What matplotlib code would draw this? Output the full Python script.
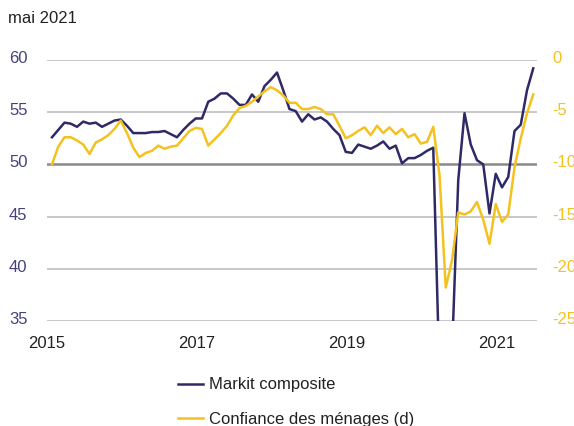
import numpy as np
import matplotlib
matplotlib.use("Agg")
import matplotlib.pyplot as plt
from matplotlib.transforms import ScaledTranslation

plt.rcParams['font.family'] = ['Liberation Sans', 'DejaVu Sans']

# mensuel, janvier 2015 -> juin 2021
pmi = [52.6, 53.3, 54.0, 53.9, 53.6, 54.1, 53.9, 54.0, 53.6, 53.9, 54.2, 54.3,
       53.7, 53.0, 53.0, 53.0, 53.1, 53.1, 53.2, 52.9, 52.6, 53.3, 53.9, 54.4,
       54.4, 56.0, 56.3, 56.8, 56.8, 56.3, 55.7, 55.7, 56.7, 56.0, 57.5, 58.1,
       58.8, 57.1, 55.3, 55.1, 54.1, 54.8, 54.3, 54.5, 54.1, 53.4, 52.8, 51.2,
       51.1, 51.9, 51.7, 51.5, 51.8, 52.2, 51.5, 51.8, 50.1, 50.6, 50.6, 50.9,
       51.3, 51.6, 29.7, 13.6, 31.9, 48.5, 54.9, 51.9, 50.4, 50.0, 45.3, 49.1,
       47.8, 48.8, 53.2, 53.8, 57.1, 59.2]

confiance = [-10.0, -8.3, -7.4, -7.4, -7.7, -8.1, -9.0, -7.9, -7.6, -7.2, -6.6, -5.8,
             -7.0, -8.4, -9.3, -8.9, -8.7, -8.2, -8.5, -8.3, -8.2, -7.5, -6.8, -6.5,
             -6.6, -8.2, -7.6, -7.0, -6.3, -5.3, -4.6, -4.4, -4.0, -3.5, -3.0, -2.6,
             -2.9, -3.4, -4.1, -4.1, -4.7, -4.7, -4.5, -4.7, -5.2, -5.2, -6.3, -7.5,
             -7.2, -6.8, -6.45, -7.2, -6.3, -7.0, -6.45, -7.1, -6.6, -7.4, -7.1, -8.0,
             -7.85, -6.4, -11.0, -21.8, -19.2, -14.6, -14.8, -14.5, -13.6, -15.3, -17.6, -13.8,
             -15.5, -14.8, -10.3, -7.5, -5.1, -3.3]

annees = ['2015', '2017', '2019', '2021']
ticks_g = [60, 55, 50, 45, 40, 35]
ticks_d = [0, -5, -10, -15, -20, -25]

violet = '#2f2a66'
jaune = '#f4c21f'

mois = np.arange(len(pmi))

fig = plt.figure(figsize=(5.74, 4.26), dpi=100)
ax = fig.add_axes([47/574, 1-321/426, 490/574, 261/426])
ax2 = ax.twinx()

for v in ticks_g:
    if v == 50:
        ax.axhline(v, color='#8a8a8a', lw=1.8, zorder=1)
    else:
        ax.axhline(v, color='#c4c4c4', lw=1.3, zorder=1)

l1, = ax.plot(mois, pmi, color=violet, lw=1.8, zorder=3)
l2, = ax2.plot(mois, confiance, color=jaune, lw=1.8, zorder=3)

ax.set_xlim(-0.16, 77.6)
ax.set_ylim(35, 60)
ax2.set_ylim(-25, 0)

ax.set_yticks(ticks_g)
ax.set_yticklabels([str(t) for t in ticks_g], color='#45437e', fontsize=12)
ax2.set_yticks(ticks_d)
ax2.set_yticklabels([str(t) for t in ticks_d], color=jaune, fontsize=12)
ax.set_xticks([i * 24 - 0.8 for i in range(len(annees))])
ax.set_xticklabels(annees, fontsize=12, color='#222222')

ax.tick_params(axis='y', length=0, pad=14)
ax2.tick_params(axis='y', length=0, pad=11)
ax.tick_params(axis='x', length=0, pad=11)

# étiquettes verticales un peu au-dessus des lignes
decal = ScaledTranslation(0, 3/100, fig.dpi_scale_trans)
for lab in ax.get_yticklabels() + ax2.get_yticklabels():
    lab.set_transform(lab.get_transform() + decal)

for a in (ax, ax2):
    for s in a.spines.values():
        s.set_visible(False)

fig.text(8/574, 1-23/426, 'mai 2021', fontsize=12, color='#222222', va='baseline')

fig.legend([l1, l2], ['Markit composite', 'Confiance des ménages (d)'],
           loc='center left', bbox_to_anchor=(178/574, 1-402/426),
           frameon=False, fontsize=12, handlelength=1.5, handletextpad=0.35,
           labelspacing=1.15, borderpad=0, borderaxespad=0, labelcolor='#222222')

fig.savefig('out.png', dpi=100)
